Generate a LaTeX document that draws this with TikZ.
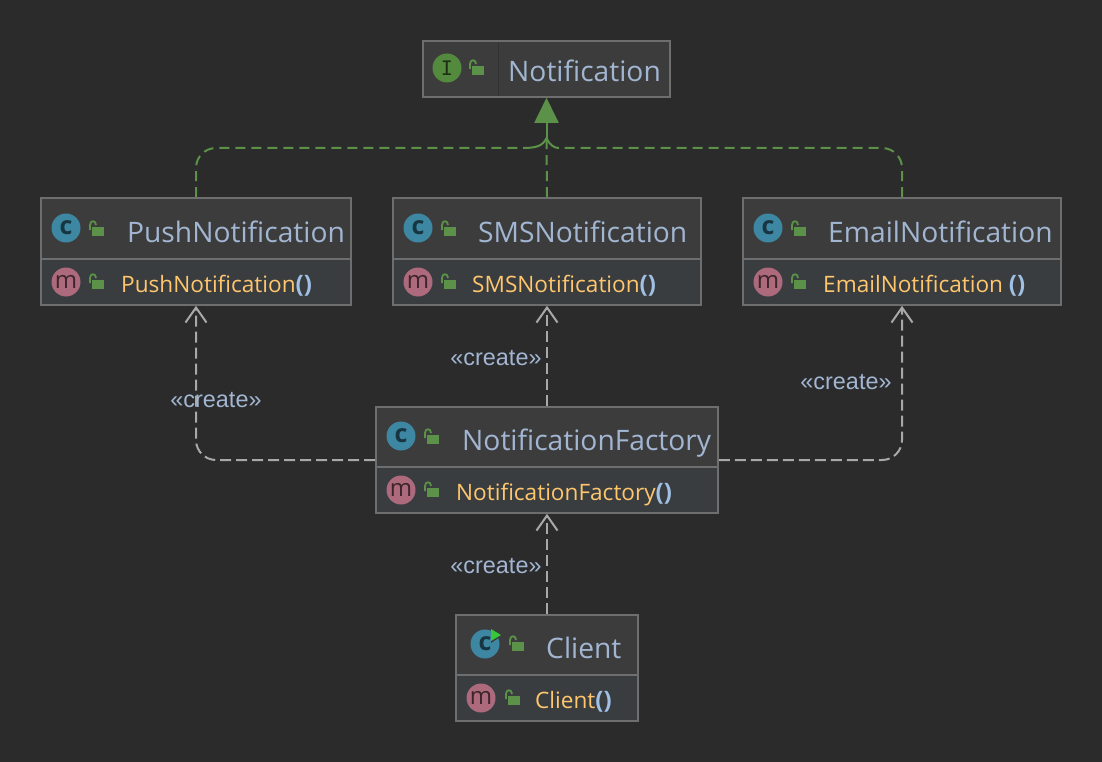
\documentclass[tikz,border=0pt]{standalone}
\usepackage{fontspec}
\setmainfont{Open Sans}[Ligatures=NoCommon]
\newfontfamily\labelfont{Liberation Sans}
\newfontfamily\slabfont{DejaVu Sans Mono}
\usetikzlibrary{arrows.meta}
\definecolor{bgcol}{HTML}{2B2B2B}
\definecolor{headcol}{HTML}{3C3C3C}
\definecolor{bodycol}{HTML}{393D40}
\definecolor{edgecol}{HTML}{6E6E6E}
\definecolor{namecol}{HTML}{A2B6D2}
\definecolor{methcol}{HTML}{FFC66D}
\definecolor{parencol}{HTML}{A0C0E4}
\definecolor{greencol}{HTML}{5B9148}
\definecolor{whitecol}{HTML}{A8A8A8}
\definecolor{ccol}{HTML}{3D87A3}
\definecolor{mcol}{HTML}{AD6A7C}
\definecolor{icol}{HTML}{538A3D}
\tikzset{
  umlbox/.style={draw=edgecol,line width=1.6pt,fill=bodycol,inner sep=0pt},
  headbox/.style={draw=edgecol,line width=1.6pt,fill=headcol,inner sep=0pt,anchor=north},
  title/.style={text=namecol,anchor=base west,inner sep=0pt,font=\fontsize{28.2}{28.2}\selectfont},
  meth/.style={text=methcol,anchor=base west,inner sep=0pt,font=\fontsize{22.6}{22.6}\selectfont},
  classicon/.style={circle,fill=ccol,minimum size=29pt,inner sep=0pt,text=ccol!40!black,font=\fontsize{25}{25}\selectfont\bfseries},
  methicon/.style={circle,fill=mcol,minimum size=29pt,inner sep=0pt,text=mcol!35!black,font=\fontsize{24}{24}\selectfont},
  intficon/.style={circle,fill=icol,minimum size=29pt,inner sep=0pt,text=icol!35!black,font=\fontsize{20}{20}\slabfont},
  lockicon/.pic={
    \fill[greencol] (-3,-1) rectangle (9,8);
    \draw[greencol,line width=1.8pt] (-5,2) -- (-5,-3) .. controls (-5,-8) and (1,-8) .. (1,-3);
  },
  impl/.style={draw=greencol,line width=2pt,dash pattern=on 10pt off 6pt},
  dep/.style={draw=whitecol,line width=2pt,dash pattern=on 11pt off 5pt,
    -{Straight Barb[length=15pt,width=21pt,line width=2pt]},rounded corners=20pt},
  stereo/.style={text=namecol,inner sep=0pt,font=\labelfont\fontsize{23.4}{23.4}\selectfont},
}
\newcommand{\parens}{\textcolor{parencol}{\bfseries\fontsize{24}{24}\selectfont()}}
\begin{document}
\begin{tikzpicture}[x=1pt,y=-1pt]
  \fill[bgcol] (0,0) rectangle (1102,762);
  \useasboundingbox (0,0) rectangle (1102,762);
  % interface
  \node[headbox,anchor=center,minimum width=247pt,minimum height=56pt] (notif) at (546.5,69) {};
  \draw[headcol!85!black,line width=1pt] (498,42) -- (498,96);
  \node[intficon] (notificon) at (447,68) {I};
  \pic at (475,67) {lockicon};
  \node[title] (notiftext) at (508,82) {Notification};
  % classes
  \node[umlbox,minimum width=310pt,minimum height=107pt] (push) at (196,251.5) {};
  \node[headbox,minimum width=310pt,minimum height=61pt] (pushhead) at (push.north) {};
  \node[classicon] (pushc) at (66,228) {c};
  \pic at (95,228) {lockicon};
  \node[title] (pushtext) at (127,242) {PushNotification};
  \node[methicon] (pushm) at (66,282) {m};
  \pic at (95,281) {lockicon};
  \node[meth] (pushmeth) at (121,292) {PushNotification\parens};

  \node[umlbox,minimum width=308pt,minimum height=107pt] (sms) at (547,251.5) {};
  \node[headbox,minimum width=308pt,minimum height=61pt] (smshead) at (sms.north) {};
  \node[classicon] (smsc) at (418,228) {c};
  \pic at (447,228) {lockicon};
  \node[title] (smstext) at (478,242) {SMSNotification};
  \node[methicon] (smsm) at (418,282) {m};
  \pic at (447,281) {lockicon};
  \node[meth] (smsmeth) at (472,292) {SMSNotification\parens};

  \node[umlbox,minimum width=318pt,minimum height=107pt] (email) at (902,251.5) {};
  \node[headbox,minimum width=318pt,minimum height=61pt] (emailhead) at (email.north) {};
  \node[classicon] (emailc) at (768,228) {c};
  \pic at (797,228) {lockicon};
  \node[title] (emailtext) at (828,242) {EmailNotification};
  \node[methicon] (emailm) at (768,282) {m};
  \pic at (797,281) {lockicon};
  \node[meth] (emailmeth) at (823,292) {EmailNotification \parens};

  \node[umlbox,minimum width=342pt,minimum height=106pt] (factory) at (547,460) {};
  \node[headbox,minimum width=342pt,minimum height=60pt] (factoryhead) at (factory.north) {};
  \node[classicon] (factoryc) at (401,436) {c};
  \pic at (430,436) {lockicon};
  \node[title] (factorytext) at (462,450) {NotificationFactory};
  \node[methicon] (factorym) at (401,490) {m};
  \pic at (430,489) {lockicon};
  \node[meth] (factorymeth) at (456,500) {NotificationFactory\parens};

  \node[umlbox,minimum width=182pt,minimum height=106pt] (client) at (547,668) {};
  \node[headbox,minimum width=182pt,minimum height=60pt] (clienthead) at (client.north) {};
  \node[classicon] (clientc) at (485,644) {c};
  \fill[headcol] (491,627) -- (503,635) -- (491,643) -- cycle;
  \fill[green!55!gray] (491,629) -- (501,635) -- (491,641) -- cycle;
  \pic at (515,643) {lockicon};
  \node[title] (clienttext) at (546,658) {Client};
  \node[methicon] (clientm) at (481,698) {m};
  \pic at (511,697) {lockicon};
  \node[meth] (clientmeth) at (535,708) {Client\parens};
  % realisation
  \coordinate (merge) at (546.5,138);
  \coordinate (bendl) at (196,148);
  \coordinate (bendr) at (902,148);
  \coordinate (joinl) at (523,148);
  \coordinate (joinr) at (559,148);
  \draw[impl,rounded corners=20pt] (pushhead.north) -- (bendl) -- (joinl);
  \draw[impl,rounded corners=20pt] (emailhead.north) -- (bendr) -- (joinr);
  \draw[greencol,line width=2pt] (joinl) .. controls (536,148) and (543,146) .. (merge);
  \draw[greencol,line width=2pt] (joinr) .. controls (555,148) and (550,146) .. (merge);
  \draw[impl] (smshead.north) -- (merge);
  \draw[greencol,line width=2pt,-{Triangle[length=25pt,width=24pt]}] (merge) -- (notif.south);
  % create
  \coordinate (leftbend) at (196,460);
  \coordinate (rightbend) at (902,460);
  \draw[dep] (factory.west) -- (leftbend) -- (push.south);
  \draw[dep] (factory.east) -- (rightbend) -- (email.south);
  \draw[dep] (factoryhead.north) -- (sms.south);
  \draw[dep] (clienthead.north) -- (factory.south);
  \node[stereo] (createpush) at (216,400) {«create»};
  \node[stereo] (createsms) at (496,358) {«create»};
  \node[stereo] (createemail) at (846,382) {«create»};
  \node[stereo] (createfactory) at (496,566) {«create»};
\end{tikzpicture}
\end{document}
